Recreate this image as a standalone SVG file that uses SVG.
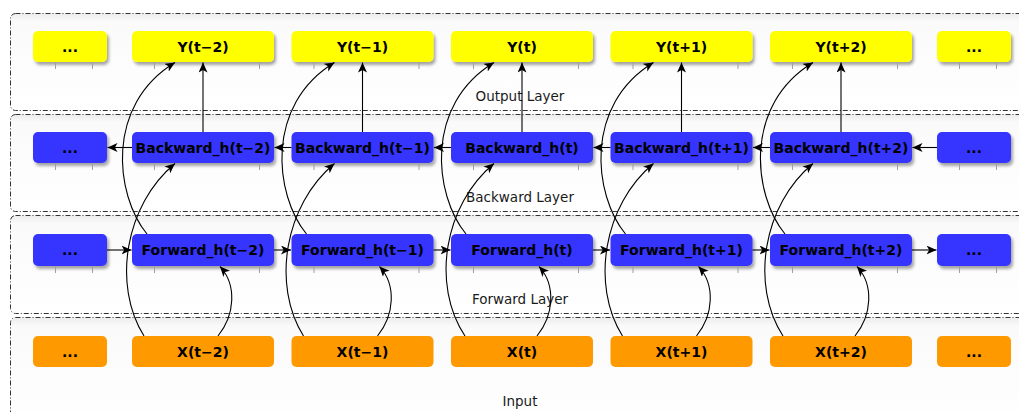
<svg xmlns="http://www.w3.org/2000/svg" width="1019" height="412" viewBox="0 0 1019 412">
  <defs>
    <linearGradient id="frameFill" x1="0" y1="0" x2="0" y2="1">
      <stop offset="0" stop-color="#ececec"/>
      <stop offset="0.08" stop-color="#fafafa"/>
      <stop offset="1" stop-color="#ffffff"/>
    </linearGradient>
    <filter id="shadow" x="-10%" y="-20%" width="125%" height="160%">
      <feDropShadow dx="2" dy="3" stdDeviation="1.6" flood-color="#000" flood-opacity="0.35"/>
    </filter>
    <marker id="arrow" markerUnits="userSpaceOnUse" markerWidth="11" markerHeight="10" refX="10" refY="4.5" orient="auto">
      <path d="M0,0 L10,4.5 L0,9 L2.6,4.5 z" fill="#000"/>
    </marker>
  </defs>
  <style>
    .frame { fill: url(#frameFill); stroke: #333333; stroke-width: 1; stroke-dasharray: 5 2 1 2; }
    .layer { font-family: "DejaVu Sans", "Liberation Sans", sans-serif; font-size: 13.5px; fill: #1a1a1a; text-anchor: middle; }
    .lbl { font-family: "DejaVu Sans", "Liberation Sans", sans-serif; font-size: 14px; font-weight: bold; fill: #000; text-anchor: middle; }
    .out { fill: #ffff00; filter: url(#shadow); }
    .hid { fill: #3535ff; filter: url(#shadow); }
    .inp { fill: #ff9900; }
    .tick { stroke: #a0a0a0; stroke-width: 1; }
    .edge { fill: none; stroke: #000; stroke-width: 1.1; marker-end: url(#arrow); }
  </style>

  <rect width="1019" height="412" fill="#ffffff"/>

  <!-- layer frames (they run off the right and bottom edges) -->
  <g id="frames">
    <rect class="frame" x="10.5" y="13.5" width="1030" height="97" rx="5"/>
    <rect class="frame" x="10.5" y="114.5" width="1030" height="97" rx="5"/>
    <rect class="frame" x="10.5" y="215.5" width="1030" height="98" rx="5"/>
    <rect class="frame" x="10.5" y="317.5" width="1030" height="110" rx="5"/>
  </g>

  <g id="layer-labels">
    <text class="layer" x="520" y="101">Output Layer</text>
    <text class="layer" x="520" y="202">Backward Layer</text>
    <text class="layer" x="520" y="304">Forward Layer</text>
    <text class="layer" x="520" y="406">Input</text>
  </g>

  <!-- output row -->
  <g id="y-left"><rect class="out" x="33" y="31" width="74" height="31" rx="5"/><line class="tick" x1="55.5" y1="62" x2="55.5" y2="69"/><line class="tick" x1="92.5" y1="62" x2="92.5" y2="69"/><text class="lbl" x="70" y="52">...</text></g>
  <g id="y-tm2"><rect class="out" x="132" y="31" width="142" height="31" rx="5"/><line class="tick" x1="154.5" y1="62" x2="154.5" y2="69"/><line class="tick" x1="259.5" y1="62" x2="259.5" y2="69"/><text class="lbl" x="203" y="52">Y(t−2)</text></g>
  <g id="y-tm1"><rect class="out" x="291.5" y="31" width="142" height="31" rx="5"/><line class="tick" x1="314" y1="62" x2="314" y2="69"/><line class="tick" x1="419" y1="62" x2="419" y2="69"/><text class="lbl" x="362.5" y="52">Y(t−1)</text></g>
  <g id="y-t"><rect class="out" x="451" y="31" width="142" height="31" rx="5"/><line class="tick" x1="473.5" y1="62" x2="473.5" y2="69"/><line class="tick" x1="578.5" y1="62" x2="578.5" y2="69"/><text class="lbl" x="522" y="52">Y(t)</text></g>
  <g id="y-tp1"><rect class="out" x="610.5" y="31" width="142" height="31" rx="5"/><line class="tick" x1="633" y1="62" x2="633" y2="69"/><line class="tick" x1="738" y1="62" x2="738" y2="69"/><text class="lbl" x="681.5" y="52">Y(t+1)</text></g>
  <g id="y-tp2"><rect class="out" x="770" y="31" width="142" height="31" rx="5"/><line class="tick" x1="792.5" y1="62" x2="792.5" y2="69"/><line class="tick" x1="897.5" y1="62" x2="897.5" y2="69"/><text class="lbl" x="841" y="52">Y(t+2)</text></g>
  <g id="y-right"><rect class="out" x="937" y="31" width="74" height="31" rx="5"/><line class="tick" x1="959.5" y1="62" x2="959.5" y2="69"/><line class="tick" x1="996.5" y1="62" x2="996.5" y2="69"/><text class="lbl" x="974" y="52">...</text></g>

  <!-- backward hidden row -->
  <g id="b-left"><rect class="hid" x="33" y="132" width="74" height="31" rx="5"/><line class="tick" x1="55.5" y1="163" x2="55.5" y2="170"/><line class="tick" x1="92.5" y1="163" x2="92.5" y2="170"/><text class="lbl" x="70" y="153">...</text></g>
  <g id="b-tm2"><rect class="hid" x="132" y="132" width="142" height="31" rx="5"/><line class="tick" x1="154.5" y1="163" x2="154.5" y2="170"/><line class="tick" x1="259.5" y1="163" x2="259.5" y2="170"/><text class="lbl" x="203" y="153">Backward_h(t−2)</text></g>
  <g id="b-tm1"><rect class="hid" x="291.5" y="132" width="142" height="31" rx="5"/><line class="tick" x1="314" y1="163" x2="314" y2="170"/><line class="tick" x1="419" y1="163" x2="419" y2="170"/><text class="lbl" x="362.5" y="153">Backward_h(t−1)</text></g>
  <g id="b-t"><rect class="hid" x="451" y="132" width="142" height="31" rx="5"/><line class="tick" x1="473.5" y1="163" x2="473.5" y2="170"/><line class="tick" x1="578.5" y1="163" x2="578.5" y2="170"/><text class="lbl" x="522" y="153">Backward_h(t)</text></g>
  <g id="b-tp1"><rect class="hid" x="610.5" y="132" width="142" height="31" rx="5"/><line class="tick" x1="633" y1="163" x2="633" y2="170"/><line class="tick" x1="738" y1="163" x2="738" y2="170"/><text class="lbl" x="681.5" y="153">Backward_h(t+1)</text></g>
  <g id="b-tp2"><rect class="hid" x="770" y="132" width="142" height="31" rx="5"/><line class="tick" x1="792.5" y1="163" x2="792.5" y2="170"/><line class="tick" x1="897.5" y1="163" x2="897.5" y2="170"/><text class="lbl" x="841" y="153">Backward_h(t+2)</text></g>
  <g id="b-right"><rect class="hid" x="937" y="132" width="74" height="31" rx="5"/><line class="tick" x1="959.5" y1="163" x2="959.5" y2="170"/><line class="tick" x1="996.5" y1="163" x2="996.5" y2="170"/><text class="lbl" x="974" y="153">...</text></g>

  <!-- forward hidden row -->
  <g id="f-left"><rect class="hid" x="33" y="234" width="74" height="32" rx="5"/><line class="tick" x1="55.5" y1="266" x2="55.5" y2="273"/><line class="tick" x1="92.5" y1="266" x2="92.5" y2="273"/><text class="lbl" x="70" y="255">...</text></g>
  <g id="f-tm2"><rect class="hid" x="132" y="234" width="142" height="32" rx="5"/><line class="tick" x1="154.5" y1="266" x2="154.5" y2="273"/><line class="tick" x1="259.5" y1="266" x2="259.5" y2="273"/><text class="lbl" x="203" y="255">Forward_h(t−2)</text></g>
  <g id="f-tm1"><rect class="hid" x="291.5" y="234" width="142" height="32" rx="5"/><line class="tick" x1="314" y1="266" x2="314" y2="273"/><line class="tick" x1="419" y1="266" x2="419" y2="273"/><text class="lbl" x="362.5" y="255">Forward_h(t−1)</text></g>
  <g id="f-t"><rect class="hid" x="451" y="234" width="142" height="32" rx="5"/><line class="tick" x1="473.5" y1="266" x2="473.5" y2="273"/><line class="tick" x1="578.5" y1="266" x2="578.5" y2="273"/><text class="lbl" x="522" y="255">Forward_h(t)</text></g>
  <g id="f-tp1"><rect class="hid" x="610.5" y="234" width="142" height="32" rx="5"/><line class="tick" x1="633" y1="266" x2="633" y2="273"/><line class="tick" x1="738" y1="266" x2="738" y2="273"/><text class="lbl" x="681.5" y="255">Forward_h(t+1)</text></g>
  <g id="f-tp2"><rect class="hid" x="770" y="234" width="142" height="32" rx="5"/><line class="tick" x1="792.5" y1="266" x2="792.5" y2="273"/><line class="tick" x1="897.5" y1="266" x2="897.5" y2="273"/><text class="lbl" x="841" y="255">Forward_h(t+2)</text></g>
  <g id="f-right"><rect class="hid" x="937" y="234" width="74" height="32" rx="5"/><line class="tick" x1="959.5" y1="266" x2="959.5" y2="273"/><line class="tick" x1="996.5" y1="266" x2="996.5" y2="273"/><text class="lbl" x="974" y="255">...</text></g>

  <!-- input row -->
  <g id="x-left"><rect class="inp" x="33" y="336" width="74" height="31" rx="5"/><text class="lbl" x="70" y="357">...</text></g>
  <g id="x-tm2"><rect class="inp" x="132" y="336" width="142" height="31" rx="5"/><text class="lbl" x="203" y="357">X(t−2)</text></g>
  <g id="x-tm1"><rect class="inp" x="291.5" y="336" width="142" height="31" rx="5"/><text class="lbl" x="362.5" y="357">X(t−1)</text></g>
  <g id="x-t"><rect class="inp" x="451" y="336" width="142" height="31" rx="5"/><text class="lbl" x="522" y="357">X(t)</text></g>
  <g id="x-tp1"><rect class="inp" x="610.5" y="336" width="142" height="31" rx="5"/><text class="lbl" x="681.5" y="357">X(t+1)</text></g>
  <g id="x-tp2"><rect class="inp" x="770" y="336" width="142" height="31" rx="5"/><text class="lbl" x="841" y="357">X(t+2)</text></g>
  <g id="x-right"><rect class="inp" x="937" y="336" width="74" height="31" rx="5"/><text class="lbl" x="974" y="357">...</text></g>

  <g id="connectors">
    <!-- backward chain runs right to left -->
    <line class="edge" x1="132" y1="147.5" x2="107.5" y2="147.5"/>
    <line class="edge" x1="291.5" y1="147.5" x2="274.5" y2="147.5"/>
    <line class="edge" x1="451" y1="147.5" x2="434" y2="147.5"/>
    <line class="edge" x1="610.5" y1="147.5" x2="593.5" y2="147.5"/>
    <line class="edge" x1="770" y1="147.5" x2="753" y2="147.5"/>
    <line class="edge" x1="937" y1="147.5" x2="912.5" y2="147.5"/>
    <!-- forward chain runs left to right -->
    <line class="edge" x1="107" y1="250" x2="131.5" y2="250"/>
    <line class="edge" x1="274" y1="250" x2="291" y2="250"/>
    <line class="edge" x1="433.5" y1="250" x2="450.5" y2="250"/>
    <line class="edge" x1="593" y1="250" x2="610" y2="250"/>
    <line class="edge" x1="752.5" y1="250" x2="769.5" y2="250"/>
    <line class="edge" x1="912" y1="250" x2="936.5" y2="250"/>
    <!-- per time step: backward→output, forward→output, input→backward, input→forward -->
    <g id="step-tm2">
      <line class="edge" x1="203" y1="132" x2="203" y2="62.5"/>
      <path class="edge" d="M147,234 C115,195 105,105 175,62.5"/>
      <path class="edge" d="M144,336 C112,285 125,205 175,163.5"/>
      <path class="edge" d="M218,336 C235,315 237,285 220,266.5"/>
    </g>
    <g id="step-tm1" transform="translate(159.5,0)">
      <line class="edge" x1="203" y1="132" x2="203" y2="62.5"/>
      <path class="edge" d="M147,234 C115,195 105,105 175,62.5"/>
      <path class="edge" d="M144,336 C112,285 125,205 175,163.5"/>
      <path class="edge" d="M218,336 C235,315 237,285 220,266.5"/>
    </g>
    <g id="step-t" transform="translate(319,0)">
      <line class="edge" x1="203" y1="132" x2="203" y2="62.5"/>
      <path class="edge" d="M147,234 C115,195 105,105 175,62.5"/>
      <path class="edge" d="M146,336 C112,285 125,205 175,163.5"/>
      <path class="edge" d="M218,336 C235,315 237,285 220,266.5"/>
    </g>
    <g id="step-tp1" transform="translate(478.5,0)">
      <line class="edge" x1="203" y1="132" x2="203" y2="62.5"/>
      <path class="edge" d="M147,234 C115,195 105,105 175,62.5"/>
      <path class="edge" d="M144,336 C112,285 125,205 175,163.5"/>
      <path class="edge" d="M218,336 C235,315 237,285 220,266.5"/>
    </g>
    <g id="step-tp2" transform="translate(638,0)">
      <line class="edge" x1="203" y1="132" x2="203" y2="62.5"/>
      <path class="edge" d="M147,234 C115,195 105,105 175,62.5"/>
      <path class="edge" d="M145,336 C112,285 125,205 175,163.5"/>
      <path class="edge" d="M217,336 C234,315 236,285 219,266.5"/>
    </g>
  </g>
</svg>
